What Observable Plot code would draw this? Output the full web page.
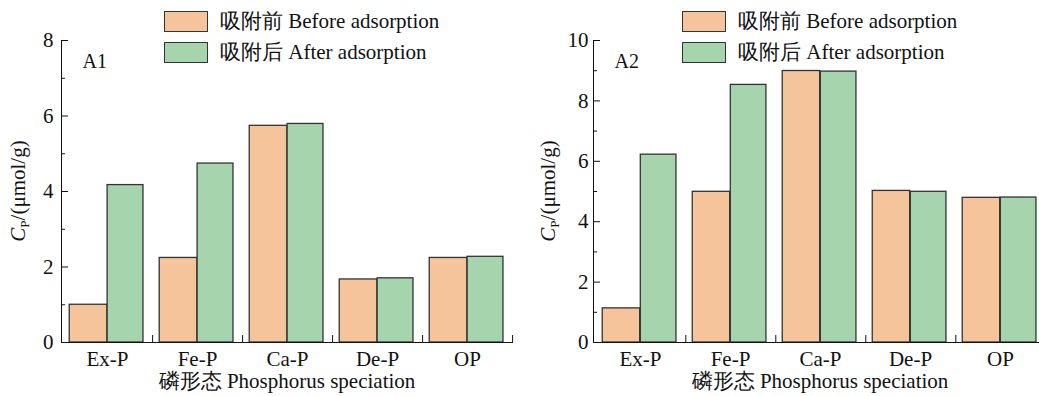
<!DOCTYPE html>
<html>
<head>
<meta charset="utf-8">
<script src="https://cdn.jsdelivr.net/npm/d3@7"></script>
<script src="https://cdn.jsdelivr.net/npm/@observablehq/plot@0.6"></script>
<style>
  html, body { margin: 0; padding: 0; background: #fff; }
  body { position: relative; width: 1039px; height: 396px; overflow: hidden;
         font-family: "Liberation Serif", "Times New Roman", Tinos, "DejaVu Serif", serif; color: #111; }
  .panel { position: absolute; top: 0; height: 396px; overflow: visible; }
  .panel svg { max-width: none !important; display: block; }
  .legend { position: absolute; top: 0; font-size: 21px; }
  .legend .row { position: absolute; left: 0; height: 21px; line-height: 21px;
                 display: flex; align-items: center; white-space: nowrap; }
  .legend .sw { box-sizing: border-box; width: 44px; height: 21px; border: 1.3px solid #333; margin-right: 12px; }
</style>
</head>
<body>
<div id="p1" class="panel" style="left:0px;width:520px"></div>
<div id="p2" class="panel" style="left:520px;width:530px"></div>
<script>
// Phosphorus speciation before / after adsorption, two sediment samples
const categories = ["Ex-P", "Fe-P", "Ca-P", "De-P", "OP"];
const seriesNames = ["吸附前 Before adsorption", "吸附后 After adsorption"];
const seriesColors = ["#F5C49A", "#A6D4AD"];

const a1Before = [1.00, 2.24, 5.74, 1.67, 2.24];
const a1After  = [4.17, 4.74, 5.79, 1.70, 2.27];
const a2Before = [1.13, 4.99, 8.99, 5.02, 4.79];
const a2After  = [6.22, 8.53, 8.97, 4.99, 4.80];

const a1Ticks = [0, 2, 4, 6, 8];
const a1Minor = [1, 3, 5, 7];
const a2Ticks = [0, 2, 4, 6, 8, 10];
const a2Minor = [1, 3, 5, 7, 9];

const panelLabels = ["A1", "A2"];
const xTitle = "磷形态 Phosphorus speciation";
const yTitleMain = "C";
const yTitleSub = "P";
const yTitleRest = "/(μmol/g)";

const FONT = '"Liberation Serif", "Times New Roman", Tinos, "DejaVu Serif", serif';

function makePanel(opts) {
  const {label, before, after, yMax, ticks, minor, width, marginLeft, marginRight,
         tickPad, yLabelX} = opts;
  const height = 396, marginTop = 40, marginBottom = 54;
  const innerW = width - marginLeft - marginRight;
  const innerH = height - marginTop - marginBottom;
  const band = innerW / categories.length;

  const rows = categories.flatMap((c, i) => [
    {cat: c, series: seriesNames[0], value: before[i]},
    {cat: c, series: seriesNames[1], value: after[i]}
  ]);

  const svg = Plot.plot({
    width, height, marginTop, marginBottom, marginLeft, marginRight,
    style: {fontFamily: FONT, fontSize: "21px", color: "#111", background: "transparent", overflow: "visible"},
    x: {domain: categories, padding: 0, axis: null},
    y: {domain: [0, yMax], axis: null},
    color: {domain: seriesNames, range: seriesColors},
    marks: [
      Plot.barY(rows.filter(d => d.series === seriesNames[0]), {
        x: "cat", y: "value", fill: "series", stroke: "#333", strokeWidth: 1.3,
        insetLeft: band * 0.08, insetRight: band / 2
      }),
      Plot.barY(rows.filter(d => d.series === seriesNames[1]), {
        x: "cat", y: "value", fill: "series", stroke: "#333", strokeWidth: 1.3,
        insetLeft: band / 2, insetRight: band * 0.1
      }),
      // inward ticks on the value axis
      Plot.tickY(ticks, {y: d => d, stroke: "#111", insetRight: innerW - 7}),
      Plot.tickY(minor, {y: d => d, stroke: "#111", insetRight: innerW - 4}),
      // category separators on the baseline
      Plot.tickX(categories, {x: d => d, dx: band / 2, stroke: "#111", insetTop: innerH - 7}),
      Plot.frame({anchor: "left", stroke: "#111"}),
      Plot.frame({anchor: "bottom", stroke: "#111"}),
      Plot.axisY(ticks, {tickSize: 0, tickPadding: tickPad, fontSize: 21, label: null}),
      Plot.axisX({tickSize: 0, tickPadding: 9, fontSize: 21, label: null}),
      Plot.text([label], {text: d => d, frameAnchor: "top-left", textAnchor: "start",
                          lineAnchor: "middle", dx: 21, dy: 21, fontSize: 20}),
      Plot.text([xTitle], {text: d => d, frameAnchor: "bottom", lineAnchor: "middle",
                           dy: 39, fontSize: 21})
    ]
  });

  // y-axis title with italic C and subscript P
  const t = d3.select(svg).append("text")
    .attr("transform", `translate(${yLabelX},${(marginTop + height - marginBottom) / 2}) rotate(-90)`)
    .attr("text-anchor", "middle")
    .attr("font-size", 21)
    .attr("fill", "#111");
  t.append("tspan").attr("font-style", "italic").text(yTitleMain);
  t.append("tspan").attr("font-size", 13).attr("dy", 4).text(yTitleSub);
  t.append("tspan").attr("dy", -4).text(yTitleRest);

  return svg;
}

function makeLegend(left) {
  const lg = document.createElement("div");
  lg.className = "legend";
  lg.style.left = left + "px";
  seriesNames.forEach((name, i) => {
    const row = document.createElement("div");
    row.className = "row";
    row.style.top = (10.5 + i * 31.5) + "px";
    const sw = document.createElement("div");
    sw.className = "sw";
    sw.style.background = seriesColors[i];
    const tx = document.createElement("span");
    tx.textContent = name;
    row.appendChild(sw);
    row.appendChild(tx);
    lg.appendChild(row);
  });
  return lg;
}

const p1 = document.getElementById("p1");
p1.appendChild(makePanel({
  label: panelLabels[0], before: a1Before, after: a1After, yMax: 8,
  ticks: a1Ticks, minor: a1Minor, width: 520, marginLeft: 61, marginRight: 8,
  tickPad: 8, yLabelX: 25
}));
p1.appendChild(makeLegend(164));

const p2 = document.getElementById("p2");
p2.appendChild(makePanel({
  label: panelLabels[1], before: a2Before, after: a2After, yMax: 10,
  ticks: a2Ticks, minor: a2Minor, width: 530, marginLeft: 73, marginRight: 4,
  tickPad: 5, yLabelX: 35
}));
p2.appendChild(makeLegend(162));
</script>
</body>
</html>
